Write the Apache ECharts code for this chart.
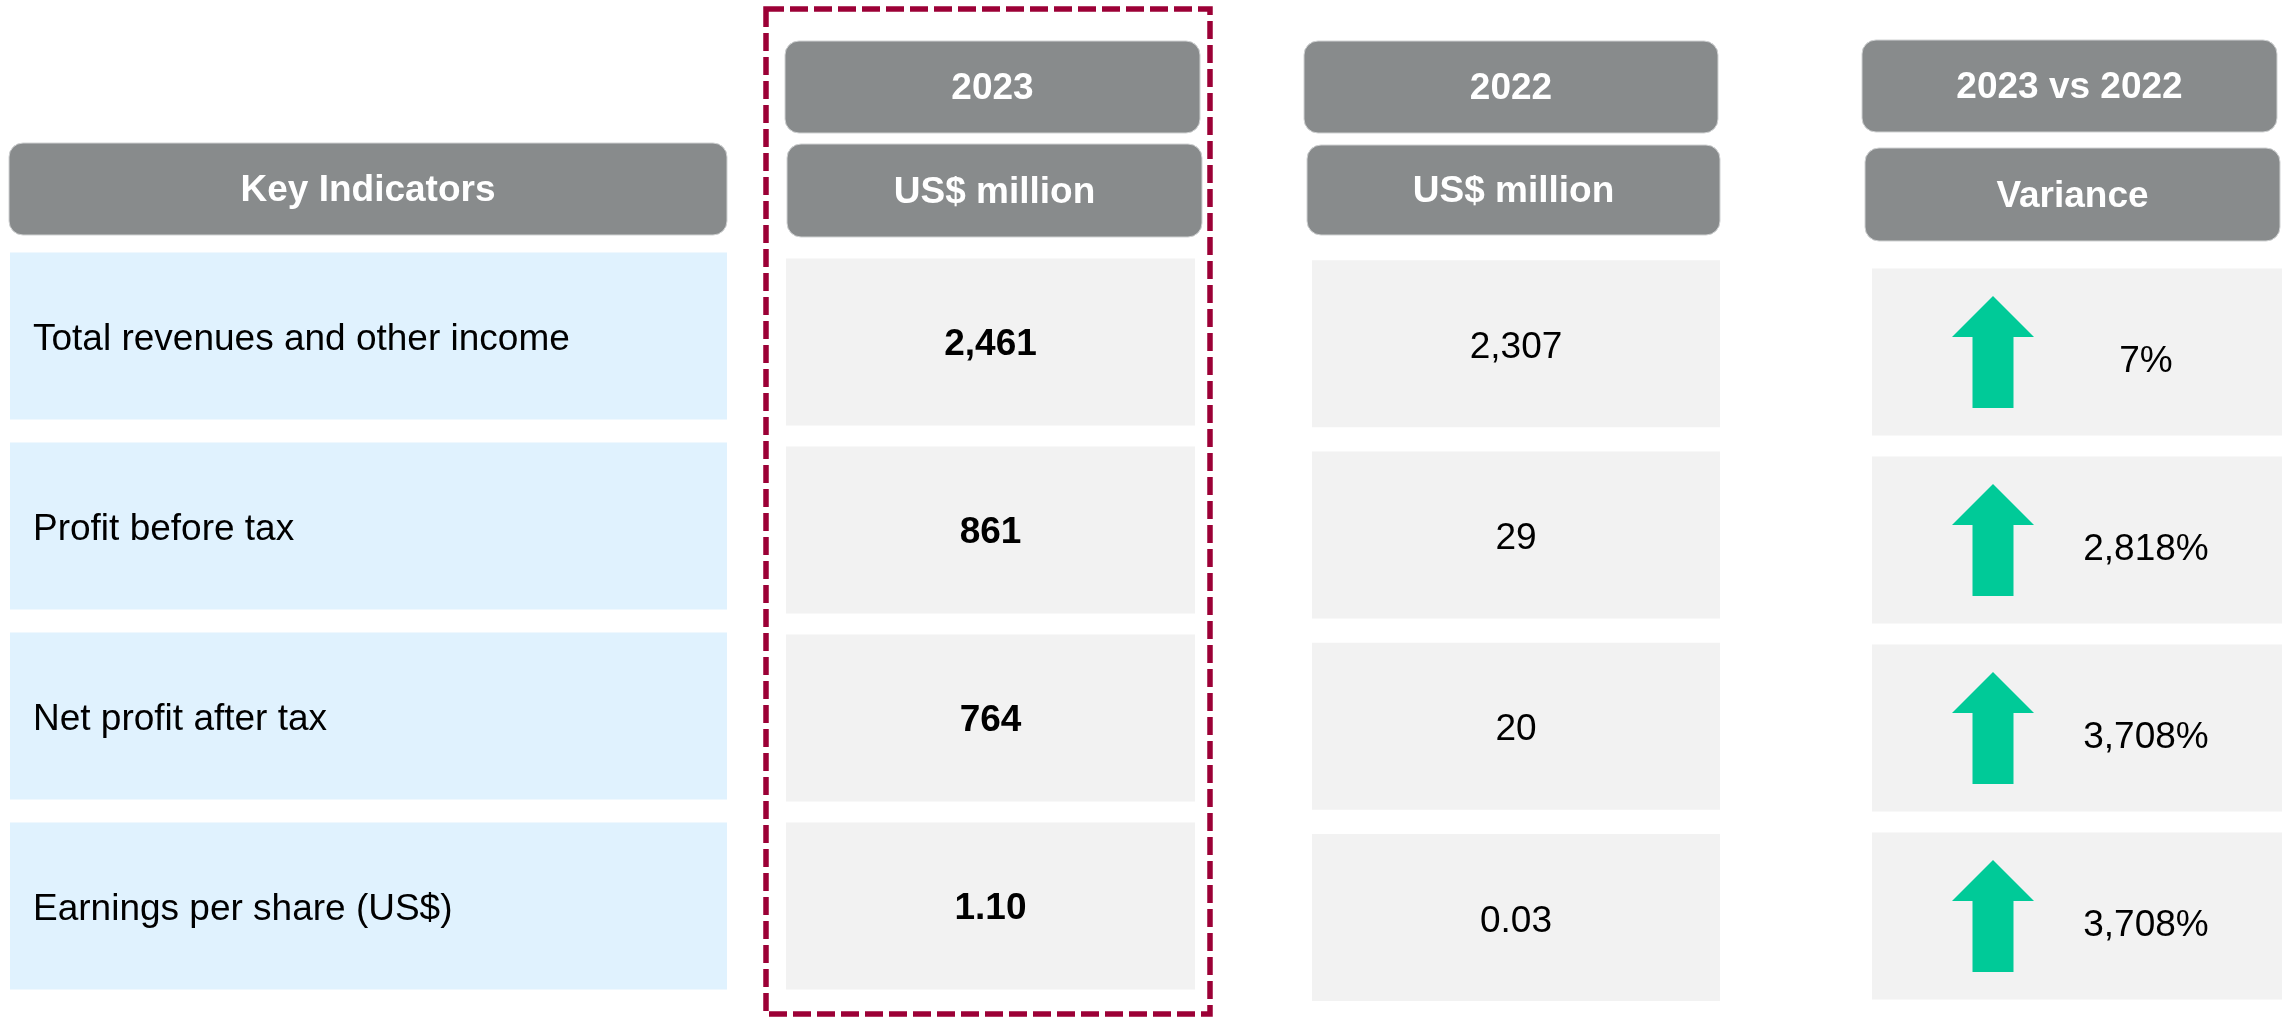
<!DOCTYPE html>
<html>
<head>
<meta charset="utf-8" />
<script src="https://cdn.jsdelivr.net/npm/echarts@6/dist/echarts.min.js"></script>
<title>Key Indicators 2023 vs 2022</title>
<style>
  body { margin: 0; background: #fff; }
  #main { width: 2292px; height: 1017px; }
</style>
</head>
<body>
<div id="main"></div>
<script type="text/javascript">
// table content
var indicators = ['Total revenues and other income', 'Profit before tax', 'Net profit after tax', 'Earnings per share (US$)'];
var values2023 = [2461, 861, 764, 1.10];
var values2022 = [2307, 29, 20, 0.03];
var variancePct = [7, 2818, 3708, 3708];
var firstHeader = 'Key Indicators';
var headerTop = ['2023', '2022', '2023 vs 2022'];
var headerSub = ['US$ million', 'US$ million', 'Variance'];

var FONT = '"Liberation Sans", Arial, Helvetica, sans-serif';
var GREY = '#888b8c';
var CELL_H = 167;
var FS = 37;

// one grid per column (pixel boxes)
var cols = [
  { left: 10, width: 717, top: 241, height: 760 },
  { left: 786, width: 409, top: 248, height: 752 },
  { left: 1312, width: 408, top: 248, height: 765 },
  { left: 1872, width: 410, top: 258, height: 752 }
];

function fmt(v) {
  return Number.isInteger(v) ? v.toLocaleString('en-US') : v.toFixed(2);
}

var myChart = echarts.init(document.getElementById('main'));

var grids = [], xAxes = [], yAxes = [];
cols.forEach(function (c, i) {
  grids.push({ left: c.left, width: c.width, top: c.top, height: c.height });
  xAxes.push({ type: 'value', gridIndex: i, min: 0, max: 1, show: false });
  yAxes.push({ type: 'category', gridIndex: i, inverse: true, data: indicators, show: false });
});

function cellBox(api) {
  var p0 = api.coord([0, api.value(1)]);
  var p1 = api.coord([1, api.value(1)]);
  return { x: p0[0], y: p0[1] - CELL_H / 2, w: p1[0] - p0[0], cy: p0[1] };
}

function txt(x, y, s, weight, align) {
  return {
    type: 'text',
    style: {
      x: x, y: y, text: s, fill: '#000',
      font: weight + ' ' + FS + 'px ' + FONT,
      textAlign: align, align: align,
      textVerticalAlign: 'middle', verticalAlign: 'middle'
    }
  };
}

function cellSeries(idx, vals, fill, drawInner) {
  return {
    type: 'custom',
    xAxisIndex: idx,
    yAxisIndex: idx,
    encode: { x: 0, y: 1 },
    data: vals.map(function (v, i) { return [0, i]; }),
    silent: true,
    renderItem: function (params, api) {
      var b = cellBox(api);
      var children = [{
        type: 'rect',
        shape: { x: b.x, y: b.y, width: b.w, height: CELL_H },
        style: { fill: fill }
      }];
      return { type: 'group', children: children.concat(drawInner(b, vals[params.dataIndex])) };
    }
  };
}

var series = [
  cellSeries(0, indicators, '#e0f2fe', function (b, v) {
    return [txt(b.x + 23, b.cy + 4, v, 'normal', 'left')];
  }),
  cellSeries(1, values2023, '#f2f2f2', function (b, v) {
    return [txt(b.x + b.w / 2, b.cy + 3, fmt(v), 'bold', 'center')];
  }),
  cellSeries(2, values2022, '#f2f2f2', function (b, v) {
    return [txt(b.x + b.w / 2, b.cy + 4, fmt(v), 'normal', 'center')];
  }),
  cellSeries(3, variancePct, '#f2f2f2', function (b, v) {
    var ax = b.x + 121, ay = b.cy;
    var arrow = {
      type: 'polygon',
      shape: {
        points: [
          [ax, ay - 56], [ax + 41, ay - 15], [ax + 20.5, ay - 15], [ax + 20.5, ay + 56],
          [ax - 20.5, ay + 56], [ax - 20.5, ay - 15], [ax - 41, ay - 15]
        ]
      },
      style: { fill: '#00ca98' }
    };
    return [arrow, txt(b.x + 274, b.cy + 10, fmt(v) + '%', 'normal', 'center')];
  })
];

// header boxes
var headers = [
  { x: 9, y: 143, w: 718, h: 92, t: firstHeader },
  { x: 785, y: 41, w: 415, h: 92, t: headerTop[0] },
  { x: 787, y: 144, w: 415, h: 93, t: headerSub[0] },
  { x: 1304, y: 41, w: 414, h: 92, t: headerTop[1] },
  { x: 1307, y: 145, w: 413, h: 90, t: headerSub[1] },
  { x: 1862, y: 40, w: 415, h: 92, t: headerTop[2] },
  { x: 1865, y: 148, w: 415, h: 93, t: headerSub[2] }
];

var graphics = headers.map(function (h) {
  return {
    type: 'group',
    children: [
      {
        type: 'rect',
        shape: { x: h.x, y: h.y, width: h.w, height: h.h, r: 14 },
        style: { fill: GREY, stroke: '#d0d2d3', lineWidth: 1 }
      },
      {
        type: 'text',
        style: {
          x: h.x + h.w / 2, y: h.y + h.h / 2 + 2, text: h.t, fill: '#fff',
          font: 'bold ' + FS + 'px ' + FONT,
          textAlign: 'center', align: 'center',
          textVerticalAlign: 'middle', verticalAlign: 'middle'
        }
      }
    ]
  };
});

// dashed highlight around the 2023 column
graphics.push({
  type: 'rect',
  shape: { x: 766, y: 9, width: 444, height: 1005 },
  style: { fill: 'none', stroke: '#9c0036', lineWidth: 5.5, lineDash: [18, 6] },
  z: 10
});

var option = {
  backgroundColor: '#fff',
  animation: false,
  grid: grids,
  xAxis: xAxes,
  yAxis: yAxes,
  series: series,
  graphic: graphics
};

myChart.setOption(option);
</script>
</body>
</html>
